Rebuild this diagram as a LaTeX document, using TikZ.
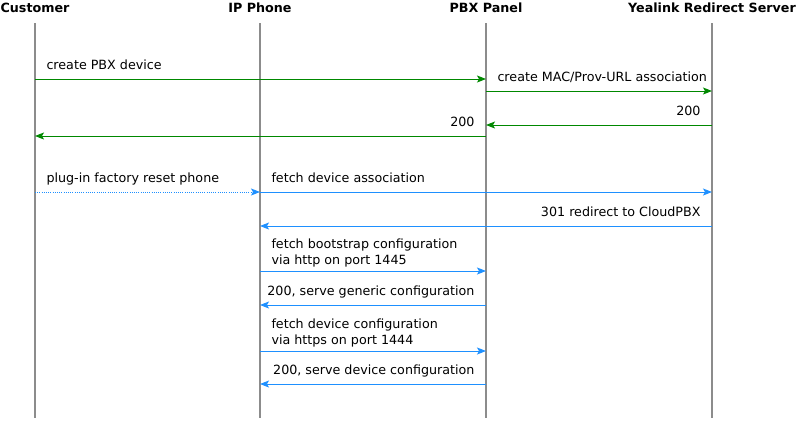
\documentclass[tikz,border=0pt]{standalone}
\usepackage{fontspec}
\setmainfont{DejaVu Sans}
\usetikzlibrary{arrows.meta}
\definecolor{msggreen}{RGB}{0,136,0}
\definecolor{msgblue}{RGB}{30,144,255}
\definecolor{lifegray}{RGB}{140,140,140}

\begin{document}
\begin{tikzpicture}[x=1pt, y=-1pt,
                    font=\fontsize{12.7}{16}\selectfont,
                    head_node/.style={font=\fontsize{12.7}{16}\selectfont\bfseries, inner sep=0pt},
                    life_line/.style={draw=lifegray, line width=2.4pt},
                    msg_green/.style={draw=msggreen, line width=1pt, -{Stealth[length=9pt, width=7pt, inset=2pt]}},
                    msg_blue/.style={draw=msgblue, line width=1pt, -{Stealth[length=9pt, width=7pt, inset=2pt]}},
                    lbl_right/.style={inner sep=0pt, text depth=3pt, align=left, pos=0, anchor=south west, xshift=11pt, yshift=6.5pt},
                    lbl_left/.style={inner sep=0pt, text depth=3pt, align=right, pos=0, anchor=south east, xshift=-11pt, yshift=6.5pt},
                    two_lines/.style={yshift=-3pt}
                ]
                    \useasboundingbox (0,0) rectangle (800,421);
                    % entities
                    \node[head_node] (cust) at (35,8) {Customer};
                    \node[head_node] (phone) at (260,8) {IP Phone};
                    \node[head_node] (pbx) at (486,8) {PBX Panel};
                    \node[head_node] (yealink) at (712,8) {Yealink Redirect Server};
                    \foreach \who in {cust,phone,pbx,yealink}
                        \draw[life_line] (\who |- 0,23) -- (\who |- 0,418);
                    % message rows
                    \coordinate (r1) at (0,79);
                    \coordinate (r2) at (0,91);
                    \coordinate (r3) at (0,125);
                    \coordinate (r4) at (0,136);
                    \coordinate (r5) at (0,192);
                    \coordinate (r6) at (0,226);
                    \coordinate (r7) at (0,271);
                    \coordinate (r8) at (0,305);
                    \coordinate (r9) at (0,351);
                    \coordinate (r10) at (0,384);
                    % registration
                    \draw[msg_green] (cust |- r1) -- (pbx |- r1) node[lbl_right] {create PBX device};
                    \draw[msg_green] (pbx |- r2) -- (yealink |- r2) node[lbl_right] {create MAC/Prov-URL association};
                    \draw[msg_green] (yealink |- r3) -- (pbx |- r3) node[lbl_left] {200};
                    \draw[msg_green] (pbx |- r4) -- (cust |- r4) node[lbl_left] {200};
                    % provisioning
                    \draw[msg_blue, dash pattern=on 1pt off 1.2pt] (cust |- r5) -- (phone |- r5) node[lbl_right] {plug-in factory reset phone};
                    \draw[msg_blue] (phone |- r5) -- (yealink |- r5) node[lbl_right] {fetch device association};
                    \draw[msg_blue] (yealink |- r6) -- (phone |- r6) node[lbl_left] {301 redirect to CloudPBX};
                    \draw[msg_blue] (phone |- r7) -- (pbx |- r7) node[lbl_right, two_lines] {fetch bootstrap configuration\\via http on port 1445};
                    \draw[msg_blue] (pbx |- r8) -- (phone |- r8) node[lbl_left] {200, serve generic configuration};
                    \draw[msg_blue] (phone |- r9) -- (pbx |- r9) node[lbl_right, two_lines] {fetch device configuration\\via https on port 1444};
                    \draw[msg_blue] (pbx |- r10) -- (phone |- r10) node[lbl_left] {200, serve device configuration};
                \end{tikzpicture}
\end{document}
